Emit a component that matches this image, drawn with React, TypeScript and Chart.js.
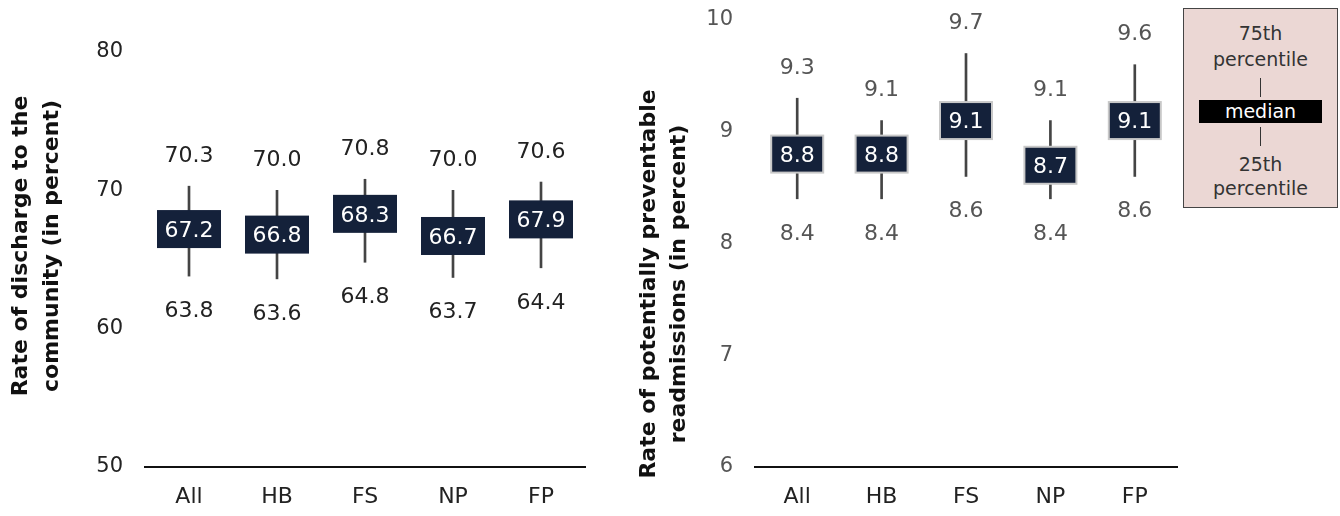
import React, { useEffect, useRef } from "react";
import { Chart, registerables } from "chart.js";

Chart.register(...registerables);

const categories = ["All", "HB", "FS", "NP", "FP"];

const dischargeP75 = [70.3, 70.0, 70.8, 70.0, 70.6];
const dischargeMedian = [67.2, 66.8, 68.3, 66.7, 67.9];
const dischargeP25 = [63.8, 63.6, 64.8, 63.7, 64.4];
const dischargeTicks = [50, 60, 70, 80];
const dischargeTitle = ["Rate of discharge to the", "community (in percent)"];

const readmitP75 = [9.3, 9.1, 9.7, 9.1, 9.6];
const readmitMedian = [8.8, 8.8, 9.1, 8.7, 9.1];
const readmitP25 = [8.4, 8.4, 8.6, 8.4, 8.6];
const readmitTicks = [6, 7, 8, 9, 10];
const readmitTitle = ["Rate of potentially preventable", "readmissions (in percent)"];

const FONT = "'DejaVu Sans', sans-serif";
const BOX_FILL = "#14213a";

type PanelCfg = {
  p75: number[];
  median: number[];
  p25: number[];
  ticks: number[];
  title: string[];
  titleX: number[];
  titleCenterY: number;
  labelColor: string;
  tickColor: string;
  boxW: number;
  boxH: number;
  boxStroke: string | null;
  padTop: number;
  padRight: number;
  width: number;
  left: number;
};

function makePlugins(cfg: PanelCfg) {
  const boxes = {
    id: "medianBoxes",
    afterDatasetsDraw(chart: any) {
      const { ctx } = chart;
      const x = chart.scales.x;
      const y = chart.scales.y;
      ctx.save();
      ctx.textAlign = "center";
      ctx.textBaseline = "middle";
      cfg.median.forEach((m, i) => {
        const cx = x.getPixelForValue(i);
        const cy = y.getPixelForValue(m);
        const yt = y.getPixelForValue(cfg.p75[i]);
        const yb = y.getPixelForValue(cfg.p25[i]);
        ctx.fillStyle = BOX_FILL;
        ctx.fillRect(cx - cfg.boxW / 2, cy - cfg.boxH / 2, cfg.boxW, cfg.boxH);
        if (cfg.boxStroke) {
          ctx.strokeStyle = cfg.boxStroke;
          ctx.lineWidth = 2;
          ctx.strokeRect(cx - cfg.boxW / 2, cy - cfg.boxH / 2, cfg.boxW, cfg.boxH);
        }
        ctx.font = `22px ${FONT}`;
        ctx.fillStyle = "#ffffff";
        ctx.fillText(m.toFixed(1), cx, cy + 2);
        ctx.fillStyle = cfg.labelColor;
        ctx.fillText(cfg.p75[i].toFixed(1), cx, yt - 30);
        ctx.fillText(cfg.p25[i].toFixed(1), cx, yb + 35);
      });
      ctx.restore();
    },
  };
  const title = {
    id: "sideTitle",
    afterDraw(chart: any) {
      const { ctx } = chart;
      ctx.save();
      ctx.font = `bold 22px ${FONT}`;
      ctx.fillStyle = "#111111";
      ctx.textAlign = "center";
      ctx.textBaseline = "middle";
      cfg.title.forEach((line, i) => {
        ctx.save();
        ctx.translate(cfg.titleX[i], cfg.titleCenterY);
        ctx.rotate(-Math.PI / 2);
        ctx.fillText(line, 0, 0);
        ctx.restore();
      });
      ctx.restore();
    },
  };
  return [boxes, title];
}

function Panel({ cfg }: { cfg: PanelCfg }) {
  const ref = useRef<HTMLCanvasElement>(null);
  useEffect(() => {
    if (!ref.current) return;
    const chart = new Chart(ref.current, {
      type: "bar",
      data: {
        labels: categories,
        datasets: [
          {
            data: cfg.p25.map((v, i) => [v, cfg.p75[i]]) as any,
            backgroundColor: "#444444",
            barThickness: 2,
            borderWidth: 0,
          },
        ],
      },
      options: {
        animation: false,
        responsive: false,
        events: [],
        layout: { padding: { top: cfg.padTop, right: cfg.padRight, bottom: 0, left: 0 } },
        plugins: { legend: { display: false }, tooltip: { enabled: false } },
        scales: {
          x: {
            grid: { display: false, drawTicks: false },
            border: { display: true, color: "#111111", width: 2 },
            ticks: { color: "#222222", font: { family: FONT, size: 22 }, padding: 17 },
            afterFit: (s: any) => {
              s.height = 49;
            },
          },
          y: {
            min: cfg.ticks[0],
            max: cfg.ticks[cfg.ticks.length - 1],
            grid: { display: false, drawTicks: false },
            border: { display: false },
            ticks: {
              stepSize: cfg.ticks[1] - cfg.ticks[0],
              color: cfg.tickColor,
              font: { family: FONT, size: 21 },
              padding: 22,
            },
            afterFit: (s: any) => {
              s.width = 145;
              s.paddingTop = 0;
              s.paddingBottom = 0;
            },
          },
        },
      },
      plugins: makePlugins(cfg) as any,
    });
    return () => chart.destroy();
  }, []);
  return (
    <canvas
      ref={ref}
      width={cfg.width}
      height={516}
      style={{ position: "absolute", left: cfg.left, top: 0, width: cfg.width, height: 516 }}
    />
  );
}

const leftCfg: PanelCfg = {
  p75: dischargeP75,
  median: dischargeMedian,
  p25: dischargeP25,
  ticks: dischargeTicks,
  title: dischargeTitle,
  titleX: [21, 52],
  titleCenterY: 246,
  labelColor: "#222222",
  tickColor: "#222222",
  boxW: 64,
  boxH: 38,
  boxStroke: null,
  padTop: 52,
  padRight: 25,
  width: 610,
  left: 0,
};

const rightCfg: PanelCfg = {
  p75: readmitP75,
  median: readmitMedian,
  p25: readmitP25,
  ticks: readmitTicks,
  title: readmitTitle,
  titleX: [39, 69],
  titleCenterY: 284,
  labelColor: "#555555",
  tickColor: "#555555",
  boxW: 52,
  boxH: 37,
  boxStroke: "#c8c8c8",
  padTop: 20,
  padRight: 3,
  width: 570,
  left: 610,
};

const legendText: React.CSSProperties = {
  position: "absolute",
  left: 0,
  width: "100%",
  textAlign: "center",
  fontFamily: FONT,
  fontSize: 19,
  lineHeight: "22px",
  color: "#333333",
};

function Legend() {
  return (
    <div
      style={{
        position: "absolute",
        left: 1183,
        top: 8,
        width: 155,
        height: 200,
        boxSizing: "border-box",
        background: "#ebd7d4",
        border: "1px solid #444444",
      }}
    >
      <div style={{ ...legendText, top: 13 }}>75th</div>
      <div style={{ ...legendText, top: 39 }}>percentile</div>
      <div style={{ position: "absolute", left: 76, top: 69, width: 1, height: 19, background: "#333" }} />
      <div
        style={{
          ...legendText,
          left: 15,
          width: 123,
          top: 91,
          height: 23,
          lineHeight: "23px",
          background: "#000000",
          color: "#ffffff",
        }}
      >
        median
      </div>
      <div style={{ position: "absolute", left: 76, top: 118, width: 1, height: 19, background: "#333" }} />
      <div style={{ ...legendText, top: 144 }}>25th</div>
      <div style={{ ...legendText, top: 168 }}>percentile</div>
    </div>
  );
}

export default function App() {
  return (
    <div style={{ position: "absolute", left: 0, top: 0, width: 1340, height: 516, background: "#ffffff", overflow: "hidden" }}>
      <Panel cfg={leftCfg} />
      <Panel cfg={rightCfg} />
      <Legend />
    </div>
  );
}
